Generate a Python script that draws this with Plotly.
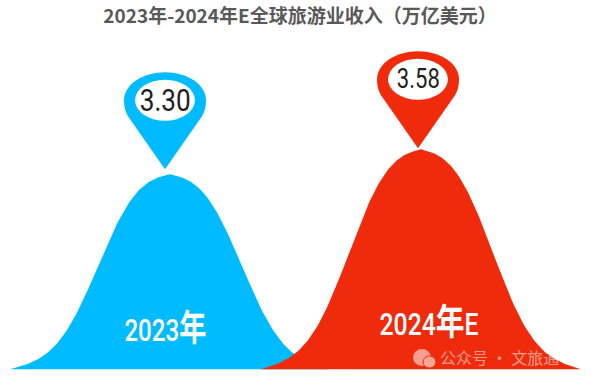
import json
import numpy as np
import plotly.graph_objects as go

# ---- data ----
categories = ["2023", "2024"]
category_suffix = ["", "E"]
revenue = [3.30, 3.58]
value_labels = ["3.30", "3.58"]
title_text = "2023年-2024年E全球旅游业收入（万亿美元）"
watermark_text = "公众号 · 文旅通"

# ---- style ----
W, H = 591, 381
COLORS = ["#00BBFF", "#F02B0C"]
PX_PER_CAT = 251.0
PX_PER_VAL = 89.3
BASE_VAL = 1.116     # axis baseline of the original chart
BASE_PX = 369.3
C0_PX = 170
PIN_DX = [-5, -3]    # pin tip offset from the bar centre, px
PIN_DY = [5, 1]
LABEL_SIZE = [32, 27]
LABEL_WIDTH = [51, 43]
CAT_SIZE = [32, 31]
CJK_SIZE = [36, 36]
CAT_WIDTH = [82, 99]
CAT_DX = [-5, 8]
CAT_DY = [40, 46]
# hill silhouette: rounded core on a straight skirt (sizes in px)
HALF_PX = 160
CORE_SCALE = 84.1
CORE_POWER = 2.84
SKIRT_SHARE = 0.18

x0 = -C0_PX / PX_PER_CAT
x1 = (W - C0_PX) / PX_PER_CAT
y_bottom = BASE_VAL - (H - BASE_PX) / PX_PER_VAL
y_top = BASE_VAL + BASE_PX / PX_PER_VAL


def hill(center, value):
    u = np.linspace(-HALF_PX, HALF_PX, 201)
    core = np.exp(-np.abs(u / CORE_SCALE) ** CORE_POWER)
    edge = np.exp(-(HALF_PX / CORE_SCALE) ** CORE_POWER)
    core = (core - edge) / (1 - edge)
    skirt = 1 - np.abs(u) / HALF_PX
    share = (1 - SKIRT_SHARE) * core + SKIRT_SHARE * skirt
    return center + u / PX_PER_CAT, BASE_VAL + (value - BASE_VAL) * share


fig = go.Figure()
shapes, annotations = [], []
widths = {}
PIN = ("M0,0 L-37,53 C-40,58 -41,63 -41,69 C-41,85 -22,97 0,97 "
       "C22,97 41,85 41,69 C41,63 40,58 37,53 Z")

for i, (cat, val) in enumerate(zip(categories, revenue)):
    xs, ys = hill(i, val)
    fig.add_trace(go.Scatter(x=xs, y=ys, mode="lines", fill="toself",
                             fillcolor=COLORS[i], line=dict(width=0, color=COLORS[i]),
                             hoverinfo="skip", showlegend=False, name=cat))
    xa = i + PIN_DX[i] / PX_PER_CAT
    ya = val + PIN_DY[i] / PX_PER_VAL
    shapes.append(dict(type="path", xref="x", yref="y", xsizemode="pixel", ysizemode="pixel",
                       xanchor=xa, yanchor=ya, path=PIN, fillcolor=COLORS[i], line_width=0))
    shapes.append(dict(type="circle", xref="x", yref="y", xsizemode="pixel", ysizemode="pixel",
                       xanchor=xa, yanchor=ya, x0=-30, x1=30, y0=48.5, y1=89.5,
                       fillcolor="white", line_width=0))
    annotations.append(dict(x=xa, y=ya, xref="x", yref="y", yshift=69, text=value_labels[i],
                            showarrow=False, xanchor="center", yanchor="middle",
                            font=dict(family="Roboto", size=LABEL_SIZE[i], color="#231F20")))
    widths[value_labels[i]] = LABEL_WIDTH[i]
    label = "%s<span style='font-size:%dpx'><b>年</b></span>%s" % (cat, CJK_SIZE[i], category_suffix[i])
    annotations.append(dict(x=i, y=BASE_VAL, xref="x", yref="y", xshift=CAT_DX[i], yshift=CAT_DY[i], text=label,
                            showarrow=False, xanchor="center", yanchor="middle",
                            font=dict(family="Roboto, Noto Sans CJK SC", size=CAT_SIZE[i], color="white", weight=500)))
    widths[cat + "年" + category_suffix[i]] = CAT_WIDTH[i]

# watermark
WM = "rgba(255,255,255,0.55)"
shapes.append(dict(type="circle", xref="paper", yref="paper", x0=413 / W, x1=431 / W, y0=1 - 366 / H, y1=1 - 349 / H,
                   fillcolor=WM, line_width=0))
shapes.append(dict(type="circle", xref="paper", yref="paper", x0=423 / W, x1=436 / W, y0=1 - 368 / H, y1=1 - 356 / H,
                   fillcolor="#F7A795", line=dict(color="#F02B0C", width=1)))
annotations.append(dict(x=438 / W, y=1 - 357 / H, xref="paper", yref="paper", xanchor="left", yanchor="middle",
                        text=watermark_text, showarrow=False,
                        font=dict(family="Noto Sans CJK SC", size=16, color=WM)))

fig.update_layout(
    width=W, height=H, autosize=False,
    margin=dict(l=0, r=0, t=0, b=0),
    paper_bgcolor="white", plot_bgcolor="white",
    xaxis=dict(range=[x0, x1], visible=False, fixedrange=True),
    yaxis=dict(range=[y_bottom, y_top], visible=False, fixedrange=True),
    title=dict(text="<b>%s</b>" % title_text, x=300 / W, xanchor="center", y=1 - 16 / H, yanchor="middle",
               font=dict(family="Noto Sans CJK SC", size=19, color="#595959")),
    shapes=shapes, annotations=annotations, showlegend=False,
)

post = """
document.documentElement.style.overflow='hidden';
document.body.style.margin='0';
var widths=%s;
document.querySelectorAll('text.annotation-text').forEach(function(t){
  var w=widths[t.textContent];
  if(w){t.setAttribute('textLength',w);t.setAttribute('lengthAdjust','spacingAndGlyphs');}
});
""" % json.dumps(widths, ensure_ascii=False)
fig.write_html("out.html", config=dict(displayModeBar=False), post_script=post)
